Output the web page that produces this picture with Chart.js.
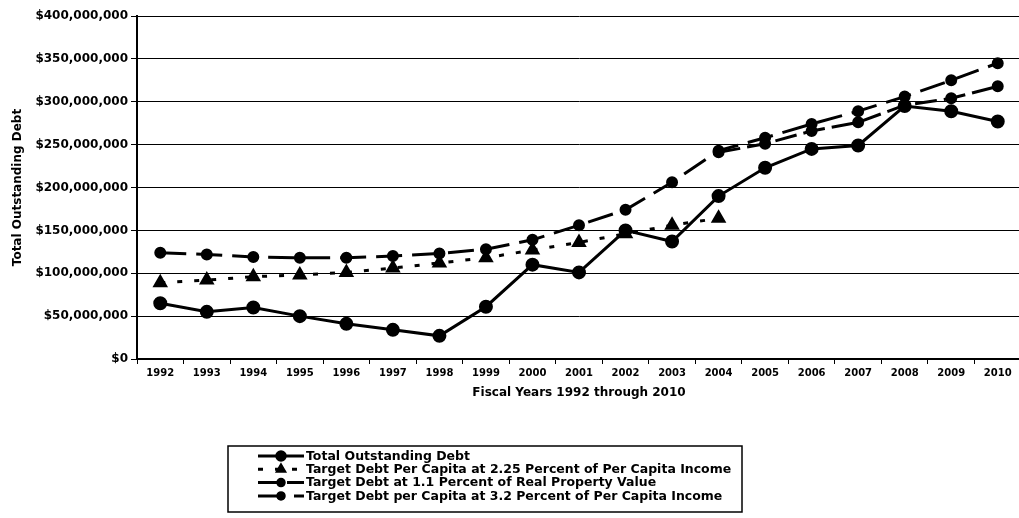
<!DOCTYPE html>
<html>
<head>
<meta charset="utf-8">
<style>
    html, body { margin: 0; padding: 0; background: #fff; overflow: hidden; }
    #wrap { width: 1030px; height: 518px; }
</style>
</head>
<body>
    <div id="wrap">
        <!-- chart area (a bit wider than the window, the last year is cut like in the scan) -->
        <canvas id="chart_id" width="1030" height="518"></canvas>
    </div>
    <script src="https://cdn.jsdelivr.net/npm/chart.js"></script>
    <script>
        // data (millions of dollars)
        const years = ['1992', '1993', '1994', '1995', '1996', '1997', '1998', '1999', '2000', '2001',
                       '2002', '2003', '2004', '2005', '2006', '2007', '2008', '2009', '2010'];
        const totalDebt  = [65, 55, 60, 50, 41, 34, 27, 61, 110, 101, 150, 137, 190, 223, 245, 249, 295, 289, 277];
        const target225  = [89, 92, 96, 98, 101, 106, 112, 118, 127, 136, 146, 156, 164, null, null, null, null, null, null];
        const target11   = [null, null, null, null, null, null, null, null, null, null, null, null, 241, 251, 266, 276, 296, 304, 318];
        const target32   = [124, 122, 119, 118, 118, 120, 123, 128, 139, 156, 174, 206, 243, 258, 274, 289, 306, 325, 345];
        const seriesNames = [
            'Total Outstanding Debt',
            'Target Debt Per Capita at 2.25 Percent of Per Capita Income',
            'Target Debt at 1.1 Percent of Real Property Value',
            'Target Debt per Capita at 3.2 Percent of Per Capita Income'
        ];
        const yMax = 400, yStep = 50;

        const M = v => v === null ? null : v * 1e6;
        const INK = '#000';
        const FONT = "'DejaVu Sans', Verdana, sans-serif";

        // legend drawn by hand: box + line sample with marker + text
        const boxLegend = {
            id: 'boxLegend',
            afterDraw(chart) {
                const ctx = chart.ctx;
                const x0 = 228, y0 = 446, w = 514, h = 66;
                ctx.save();
                ctx.strokeStyle = INK;
                ctx.lineWidth = 1.5;
                ctx.strokeRect(x0, y0, w, h);
                ctx.font = 'bold 12.5px ' + FONT;
                ctx.fillStyle = INK;
                ctx.textBaseline = 'middle';
                chart.data.datasets.forEach((ds, i) => {
                    const y = y0 + 10 + i * 13.3;
                    ctx.save();
                    ctx.strokeStyle = INK;
                    ctx.lineWidth = ds.borderWidth;
                    ctx.setLineDash(ds.borderDash || []);
                    ctx.beginPath();
                    ctx.moveTo(258, y);
                    ctx.lineTo(304, y);
                    ctx.stroke();
                    ctx.restore();
                    ctx.fillStyle = INK;
                    Chart.helpers.drawPoint(ctx, {
                        pointStyle: ds.pointStyle, radius: ds.pointRadius - 0.5, rotation: 0, borderWidth: 1
                    }, 281, y);
                    ctx.fill();
                    ctx.fillStyle = INK;
                    ctx.fillText(ds.label, 306, y + 0.5);
                });
                ctx.restore();
            }
        };

        const chartCanvas = document.getElementById('chart_id');
        new Chart(chartCanvas, {
            type: 'line',
            data: {
                labels: years,
                datasets: [
                    {
                        label: seriesNames[0], data: totalDebt.map(M),
                        borderColor: INK, backgroundColor: INK, borderWidth: 3,
                        pointStyle: 'circle', pointRadius: 5.5
                    },
                    {
                        label: seriesNames[1], data: target225.map(M),
                        borderColor: INK, backgroundColor: INK, borderWidth: 3, borderDash: [5, 12],
                        pointStyle: 'triangle', pointRadius: 6
                    },
                    {
                        label: seriesNames[2], data: target11.map(M),
                        borderColor: INK, backgroundColor: INK, borderWidth: 3, borderDash: [22, 7],
                        pointStyle: 'circle', pointRadius: 4.5
                    },
                    {
                        label: seriesNames[3], data: target32.map(M),
                        borderColor: INK, backgroundColor: INK, borderWidth: 3, borderDash: [26, 10],
                        pointStyle: 'circle', pointRadius: 4.5
                    }
                ]
            },
            options: {
                responsive: false,
                animation: false,
                spanGaps: false,
                layout: { padding: { top: 16, right: 0, bottom: 114, left: 0 } },
                plugins: {
                    legend: { display: false },
                    tooltip: { enabled: false }
                },
                scales: {
                    x: {
                        type: 'category',
                        offset: true,
                        afterFit: s => { s.height = 45; },
                        grid: {
                            display: true, drawOnChartArea: false, drawTicks: true,
                            tickLength: 5, color: INK, offset: true
                        },
                        border: { color: INK, width: 2 },
                        ticks: {
                            color: INK, padding: 3, maxRotation: 0, autoSkip: false,
                            font: { family: FONT, size: 10, weight: 'bold' }
                        },
                        title: {
                            display: true, text: 'Fiscal Years 1992 through 2010', color: INK,
                            padding: { top: 2, bottom: 4 },
                            font: { family: FONT, size: 12, weight: 'bold' }
                        }
                    },
                    y: {
                        min: 0, max: yMax * 1e6,
                        afterFit: s => { s.width = 137; },
                        grid: { color: INK, lineWidth: 1, tickLength: 6 },
                        border: { color: INK, width: 2 },
                        ticks: {
                            stepSize: yStep * 1e6, color: INK, padding: 3,
                            font: { family: FONT, size: 12, weight: 'bold' },
                            callback: v => '$' + Number(v).toLocaleString('en-US')
                        },
                        title: {
                            display: true, text: 'Total Outstanding Debt', color: INK,
                            padding: { top: 11, bottom: 4 },
                            font: { family: FONT, size: 12, weight: 'bold' }
                        }
                    }
                }
            },
            plugins: [boxLegend]
        });
    </script>
</body>
</html>
